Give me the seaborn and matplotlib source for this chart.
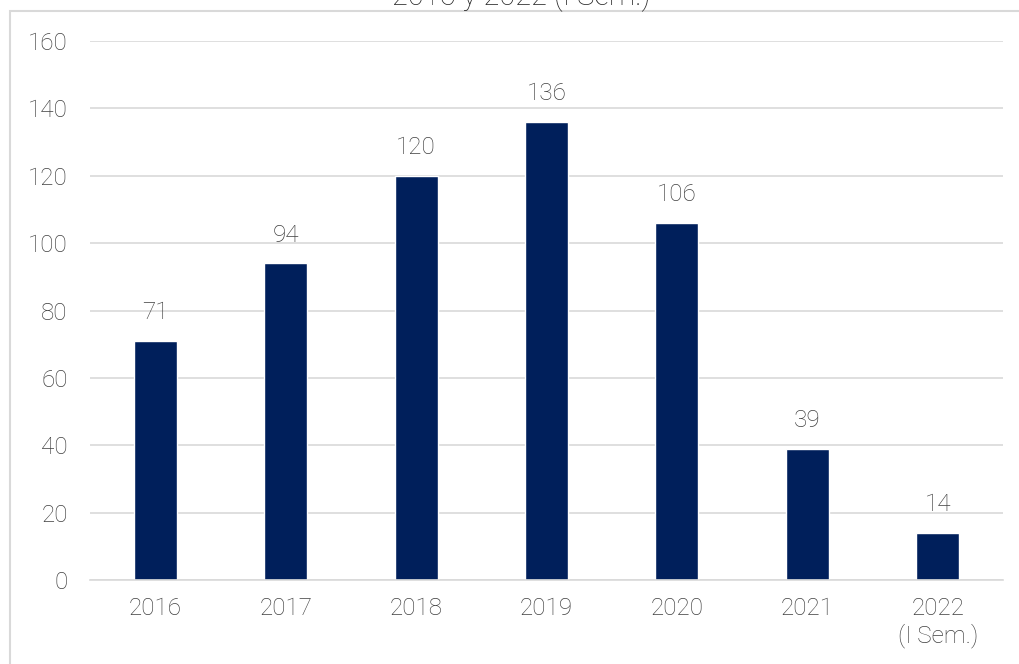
import matplotlib
matplotlib.use('Agg')
import matplotlib.pyplot as plt
import seaborn as sns
import pandas as pd
from matplotlib.patches import Rectangle

# Datos
years = ['2016', '2017', '2018', '2019', '2020', '2021', '2022\n(I Sem.)']
values = [71, 94, 120, 136, 106, 39, 14]
y_ticks = [0, 20, 40, 60, 80, 100, 120, 140, 160]

df = pd.DataFrame({'year': years, 'value': values})

sns.set_theme(style='white')
plt.rcParams['font.family'] = ['Roboto', 'DejaVu Sans']
plt.rcParams['font.weight'] = 'light'

gray_text = '#404040'
grid_col = '#d9d9d9'
bar_col = '#001f5b'

W, H = 1020, 664
fig = plt.figure(figsize=(W / 100, H / 100), dpi=100)
ax = fig.add_axes([90 / W, 1 - 580 / H, (1003 - 90) / W, (580 - 41) / H])

sns.barplot(data=df, x='year', y='value', color=bar_col, width=0.33,
            saturation=1, ax=ax)

ax.set_ylim(0, 160)
ax.set_yticks(y_ticks)
ax.set_xlim(-0.5, len(years) - 0.5)
ax.yaxis.grid(True, color=grid_col, linewidth=1.2)
ax.set_axisbelow(True)
for s in ['top', 'right', 'left']:
    ax.spines[s].set_visible(False)
ax.spines['bottom'].set_color(grid_col)
ax.spines['bottom'].set_linewidth(1.2)
ax.tick_params(axis='both', length=0, labelsize=17.5, colors=gray_text)
ax.tick_params(axis='y', pad=16)
ax.tick_params(axis='x', pad=12)
for lbl in ax.get_xticklabels() + ax.get_yticklabels():
    lbl.set_fontweight('light')
ax.set_xlabel('')
ax.set_ylabel('')

for i, v in enumerate(values):
    ax.annotate(str(v), (i, v), xytext=(0, 12), textcoords='offset points',
                ha='center', va='bottom', fontsize=17.5, color=gray_text,
                fontweight='light')

# marco del gráfico
fig.patches.append(Rectangle((10 / W, -0.1), 1.1, 1 - 11 / H + 0.1,
                             transform=fig.transFigure, fill=False,
                             edgecolor=grid_col, linewidth=1.5))

# título (cortado en la parte superior, como en el original)
fig.text(521 / W, 1 - 5 / H, '2016 y 2022 (I Sem.)', ha='center',
         va='baseline', fontsize=21, color='#262626', fontweight='light')

fig.savefig('out.png', dpi=100)
